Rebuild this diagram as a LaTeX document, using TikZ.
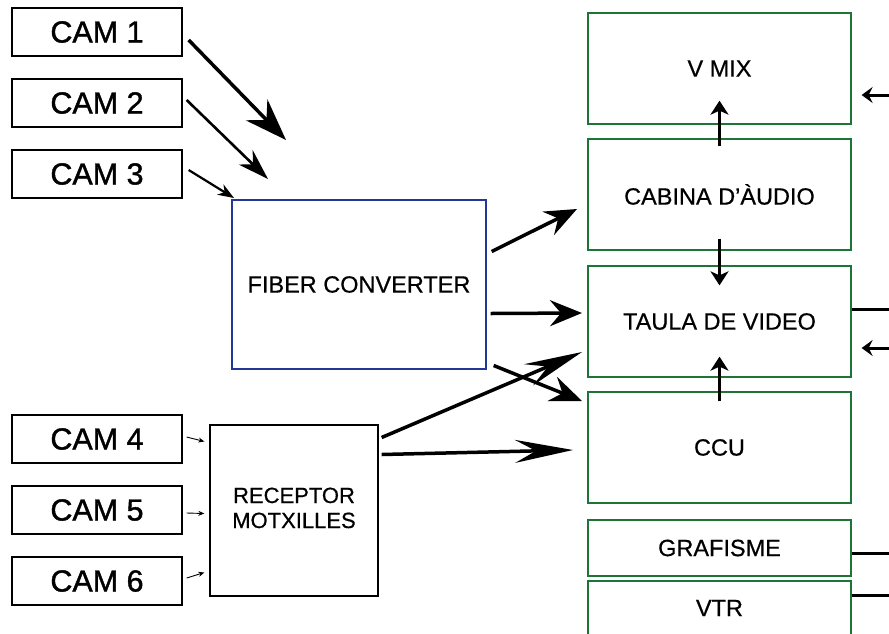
\documentclass[tikz,border=0pt]{standalone}
\usepackage{fontspec}
\setmainfont{Liberation Sans}
\newfontfamily\medfont{Liberation Sans}[FakeBold=0.6]
\newfontfamily\camfont{Liberation Sans}[FakeBold=1.3]
\usetikzlibrary{arrows.meta}
\definecolor{boxgreen}{RGB}{30,115,55}
\definecolor{boxblue}{RGB}{35,55,150}
\begin{document}
\begin{tikzpicture}[x=1pt,y=-1pt,
  box/.style={draw, line width=1.3pt, inner sep=0pt, align=center},
  cam/.style={box, minimum width=170pt, minimum height=48pt, font=\camfont\fontsize{30.5}{32}\selectfont},
  gbox/.style={box, draw=boxgreen, minimum width=263pt, font=\medfont\fontsize{23.5}{25}\selectfont},
  fat/.style={line width=3.5pt, -{Stealth[length=32pt,width=26pt,inset=11pt]}},
  longhead/.style={line width=3.5pt, -{Stealth[length=58pt,width=23pt,inset=21pt]}},
  vert/.style={line width=3.5pt, -{Stealth[length=14pt,width=18pt,inset=4pt]}},
  thinarr/.style={line width=0.9pt, -{Stealth[length=6pt,width=5pt]}},
  leftarr/.style={line width=3pt, -{Stealth[length=11pt,width=16pt,inset=4pt]}},
  stubline/.style={line width=3pt}
]
\useasboundingbox (0,0) rectangle (889,633);

% cameras
\node[cam] (c1) at (97,32) {CAM 1};
\node[cam] (c2) at (97,103) {CAM 2};
\node[cam] (c3) at (97,174) {CAM 3};
\node[cam] (c4) at (97,439) {CAM 4};
\node[cam] (c5) at (97,510) {CAM 5};
\node[cam] (c6) at (97,581) {CAM 6};

% converters
\node[box, draw=boxblue, minimum width=254pt, minimum height=169pt, font=\medfont\fontsize{23.5}{25}\selectfont] (fib) at (359,284.5) {\raisebox{-5pt}{FIBER CONVERTER}};
\node[box, minimum width=168pt, minimum height=171pt, font=\medfont\fontsize{22}{25}\selectfont] (rec) at (294,510.5) {\raisebox{4pt}{\begin{tabular}{@{}c@{}}RECEPTOR\\MOTXILLES\end{tabular}}};

% right column
\node[gbox, minimum height=111pt] (vmix) at (719.5,68.5) {\raisebox{-2pt}{V MIX}};
\node[gbox, minimum height=111pt] (cab) at (719.5,194.5) {CABINA D’ÀUDIO};
\node[gbox, minimum height=111pt] (taula) at (719.5,321.5) {TAULA DE VIDEO};
\node[gbox, minimum height=111pt] (ccu) at (719.5,447.5) {CCU};
\node[gbox, minimum height=56pt] (graf) at (719.5,548) {\raisebox{-3pt}{GRAFISME}};
\node[gbox, minimum height=56pt] (vtr) at (719.5,609) {\raisebox{2pt}{VTR}};

% free ends
\coordinate (t1) at (286,140);
\coordinate (t2) at (268,179);
\coordinate (t3) at (234,198);
\coordinate (fa) at (577,209);
\coordinate (fb) at (582,313);
\coordinate (fc) at (582,401);
\coordinate (ra) at (582,352);
\coordinate (rb) at (573,450);
\coordinate (e1) at (892,95);
\coordinate (e2) at (892,309);
\coordinate (e3) at (892,348);
\coordinate (e4) at (892,553);
\coordinate (e5) at (892,595);

% camera arrows
\draw[line width=3.5pt, -{Stealth[length=42pt,width=30pt,inset=14pt]}] ([shift={(6,8)}]c1.east) -- (t1);
\draw[line width=2.6pt, -{Stealth[length=31pt,width=20pt,inset=10pt]}] ([shift={(4,-3)}]c2.east) -- (t2);
\draw[line width=2.2pt, -{Stealth[length=16pt,width=12pt,inset=5pt]}] ([shift={(6,-4)}]c3.east) -- (t3);
\draw[thinarr] ([shift={(4,-2)}]c4.east) -- ([shift={(-5,-69)}]rec.west);
\draw[thinarr] ([shift={(4,3)}]c5.east) -- ([shift={(-5,3)}]rec.west);
\draw[thinarr] ([shift={(4,-3)}]c6.east) -- ([shift={(-5,62)}]rec.west);

% fiber converter arrows
\draw[fat] ([shift={(5,-33)}]fib.east) -- (fa);
\draw[fat] ([shift={(4,29)}]fib.east) -- (fb);
\draw[fat] ([shift={(7,81)}]fib.east) -- (fc);

% receptor arrows
\draw[longhead] ([shift={(3,-73)}]rec.east) -- (ra);
\draw[longhead] ([shift={(3,-56)}]rec.east) -- (rb);

% vertical arrows
\draw[vert] ([yshift=-8pt]cab.north) -- ([yshift=24pt]vmix.south);
\draw[vert] ([yshift=12pt]cab.south) -- ([yshift=-20pt]taula.north);
\draw[vert] ([yshift=-10pt]ccu.north) -- ([yshift=21pt]taula.south);

% right side
\draw[leftarr] (e1) -- ([xshift=10pt]vmix.east |- e1);
\draw[stubline] (taula.east |- e2) -- (e2);
\draw[leftarr] (e3) -- ([xshift=10pt]taula.east |- e3);
\draw[stubline] (graf.east |- e4) -- (e4);
\draw[stubline] (vtr.east |- e5) -- (e5);
\end{tikzpicture}
\end{document}
